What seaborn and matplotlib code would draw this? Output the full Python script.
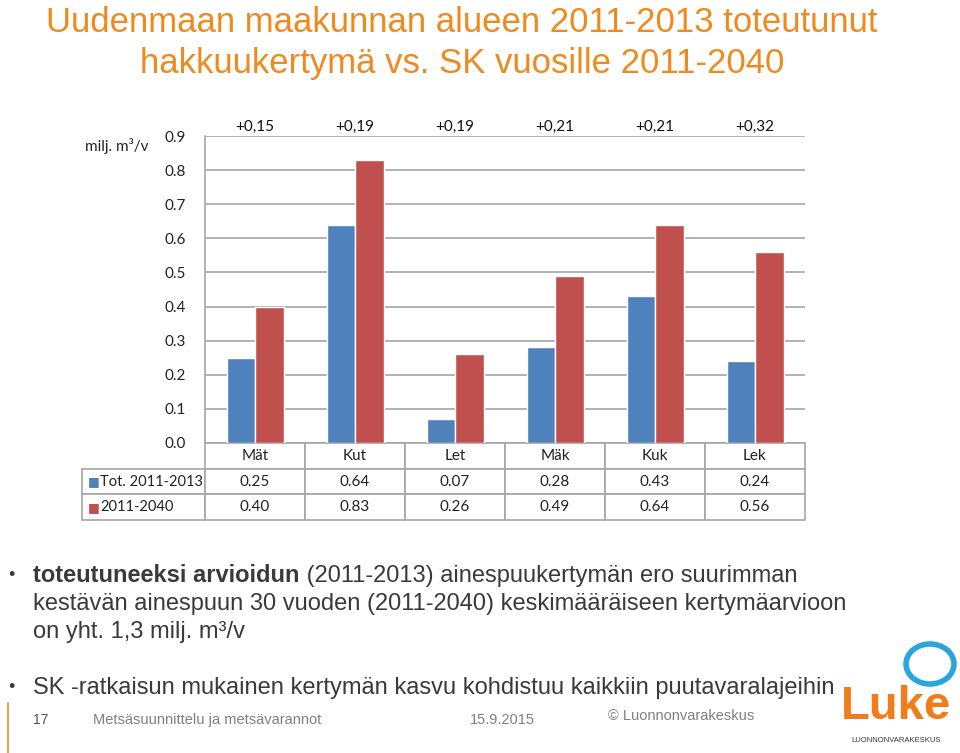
import pandas as pd
import matplotlib.pyplot as plt
import matplotlib.transforms as mtransforms
from matplotlib.patches import Ellipse
from matplotlib.lines import Line2D
import seaborn as sns

# data
lajit = ['Mät', 'Kut', 'Let', 'Mäk', 'Kuk', 'Lek']
toteutunut = [0.25, 0.64, 0.07, 0.28, 0.43, 0.24]
sk_2011_2040 = [0.40, 0.83, 0.26, 0.49, 0.64, 0.56]
erotus = ['+0,15', '+0,19', '+0,19', '+0,21', '+0,21', '+0,32']
sarjat = ['Tot. 2011-2013', '2011-2040']
y_ticks = [0.0, 0.1, 0.2, 0.3, 0.4, 0.5, 0.6, 0.7, 0.8, 0.9]

SININEN = '#4F81BD'
PUNAINEN = '#C0504D'
ORANSSI = '#EE8A1E'
HARMAA = '#A6A6A6'

df = pd.DataFrame({
    'laji': lajit * 2,
    'arvo': toteutunut + sk_2011_2040,
    'sarja': [sarjat[0]] * len(lajit) + [sarjat[1]] * len(lajit),
})

sns.set_theme(style='white')
plt.rcParams['font.family'] = ['Lato', 'DejaVu Sans']

W, H = 960, 753
fig = plt.figure(figsize=(W / 100, H / 100), dpi=100)
ax = fig.add_axes([205 / W, (H - 443) / H, 600 / W, (443 - 136) / H])

sns.barplot(data=df, x='laji', y='arvo', hue='sarja', palette=[SININEN, PUNAINEN],
            width=0.57, saturation=1, legend=False, ax=ax, zorder=3)

ax.set_ylim(0, 0.9)
ax.set_xlim(-0.5, len(lajit) - 0.5)
ax.set_yticks(y_ticks)
ax.set_yticklabels([f'{v:.1f}' for v in y_ticks], fontsize=11, color='#222222')
ax.tick_params(axis='y', length=0, pad=14)
ax.set_xticks([])
ax.set_xlabel('')
ax.set_ylabel('')
ax.grid(axis='y', color=HARMAA, linewidth=1.2, zorder=0)
for s in ['top', 'right', 'bottom']:
    ax.spines[s].set_visible(False)
ax.spines['left'].set_color(HARMAA)
ax.spines['left'].set_linewidth(1.2)

# differences above the plot
trans = mtransforms.blended_transform_factory(ax.transData, ax.transAxes)
for i, txt in enumerate(erotus):
    ax.text(i, 1.008, txt, transform=trans, ha='center', va='bottom', fontsize=11, color='#111111')

# data table under the chart
label_w = 123 / 600
tbl_h = 77 / 307
rivit = [[''] + lajit,
         [''] + [f'{v:.2f}' for v in toteutunut],
         [''] + [f'{v:.2f}' for v in sk_2011_2040]]
tbl = ax.table(cellText=rivit, colWidths=[label_w] + [1 / len(lajit)] * len(lajit),
               cellLoc='center', bbox=[-label_w, -tbl_h, 1 + label_w, tbl_h])
tbl.auto_set_font_size(False)
tbl.set_fontsize(11)
for (r, c), cell in tbl.get_celld().items():
    cell.set_edgecolor(HARMAA)
    cell.set_linewidth(1.2)
    cell.get_text().set_color('#222222')
    if r == 0 and c == 0:
        cell.visible_edges = ''
for k, (lab, col) in enumerate(zip(sarjat, [SININEN, PUNAINEN])):
    yy = -((k + 1) + 0.5) * tbl_h / 3
    ax.text(-label_w + 0.01, yy, '■', transform=ax.transAxes, color=col, fontsize=9,
            ha='left', va='center', family='DejaVu Sans')
    ax.text(-label_w + 0.03, yy, lab, transform=ax.transAxes, fontsize=10.5,
            ha='left', va='center', color='#222222')

fig.text(85 / W, 1 - 146 / H, 'milj. m³/v', fontsize=11, ha='left', va='center', color='#222222')

# slide title
otsikko = ['Uudenmaan maakunnan alueen 2011-2013 toteutunut',
           'hakkuukertymä vs. SK vuosille 2011-2040']
for k, rivi in enumerate(otsikko):
    fig.text(462 / W, 1 - (22 + 41 * k) / H, rivi, fontsize=25, color=ORANSSI,
             ha='center', va='center', family='Liberation Sans')

# bullet texts
TEKSTI = '#3A3A3A'
fs = 17
fig.text(8 / W, 1 - 576 / H, '•', fontsize=13, color=TEKSTI, va='center', family='Liberation Sans')
t1 = fig.text(33 / W, 1 - 576 / H, 'toteutuneeksi arvioidun', fontsize=fs, weight='bold',
              color=TEKSTI, va='center', family='Liberation Sans')
ax.annotate(' (2011-2013) ainespuukertymän ero suurimman', xy=(1, 0.5), xycoords=t1,
            va='center', ha='left', fontsize=fs, color=TEKSTI, family='Liberation Sans')
fig.text(33 / W, 1 - 604 / H, 'kestävän ainespuun 30 vuoden (2011-2040) keskimääräiseen kertymäarvioon',
         fontsize=fs, color=TEKSTI, va='center', family='Liberation Sans')
fig.text(33 / W, 1 - 632 / H, 'on yht. 1,3 milj. m³/v', fontsize=fs, color=TEKSTI,
         va='center', family='Liberation Sans')
fig.text(8 / W, 1 - 688 / H, '•', fontsize=13, color=TEKSTI, va='center', family='Liberation Sans')
fig.text(33 / W, 1 - 688 / H, 'SK -ratkaisun mukainen kertymän kasvu kohdistuu kaikkiin puutavaralajeihin',
         fontsize=fs, color=TEKSTI, va='center', family='Liberation Sans')

# footer
fig.add_artist(Line2D([8 / W, 8 / W], [0, 1 - 703 / H], color=ORANSSI, linewidth=1.2,
                      transform=fig.transFigure))
fig.text(33 / W, 1 - 720 / H, '17', fontsize=10, color='#555555', va='center', family='Liberation Sans')
fig.text(93 / W, 1 - 720 / H, 'Metsäsuunnittelu ja metsävarannot', fontsize=10.5, color='#808080',
         va='center', family='Liberation Sans')
fig.text(470 / W, 1 - 720 / H, '15.9.2015', fontsize=10.5, color='#808080', va='center',
         family='Liberation Sans')
fig.text(608 / W, 1 - 716 / H, '© Luonnonvarakeskus', fontsize=10.5, color='#808080', va='center',
         family='Liberation Sans')

# logo
fig.add_artist(Ellipse((930 / W, 1 - 664 / H), 48 / W, 40 / H, fill=False, edgecolor='#2AA6DD',
                       linewidth=4, transform=fig.transFigure))
fig.text(896 / W, 1 - 707 / H, 'Luke', fontsize=34, weight='bold', color='#F07D19',
         ha='center', va='center', family='Liberation Sans')
fig.text(896 / W, 1 - 740 / H, 'LUONNONVARAKESKUS', fontsize=5.5, color='#333333',
         ha='center', va='center', family='Liberation Sans')

fig.savefig('out.png', dpi=100)
